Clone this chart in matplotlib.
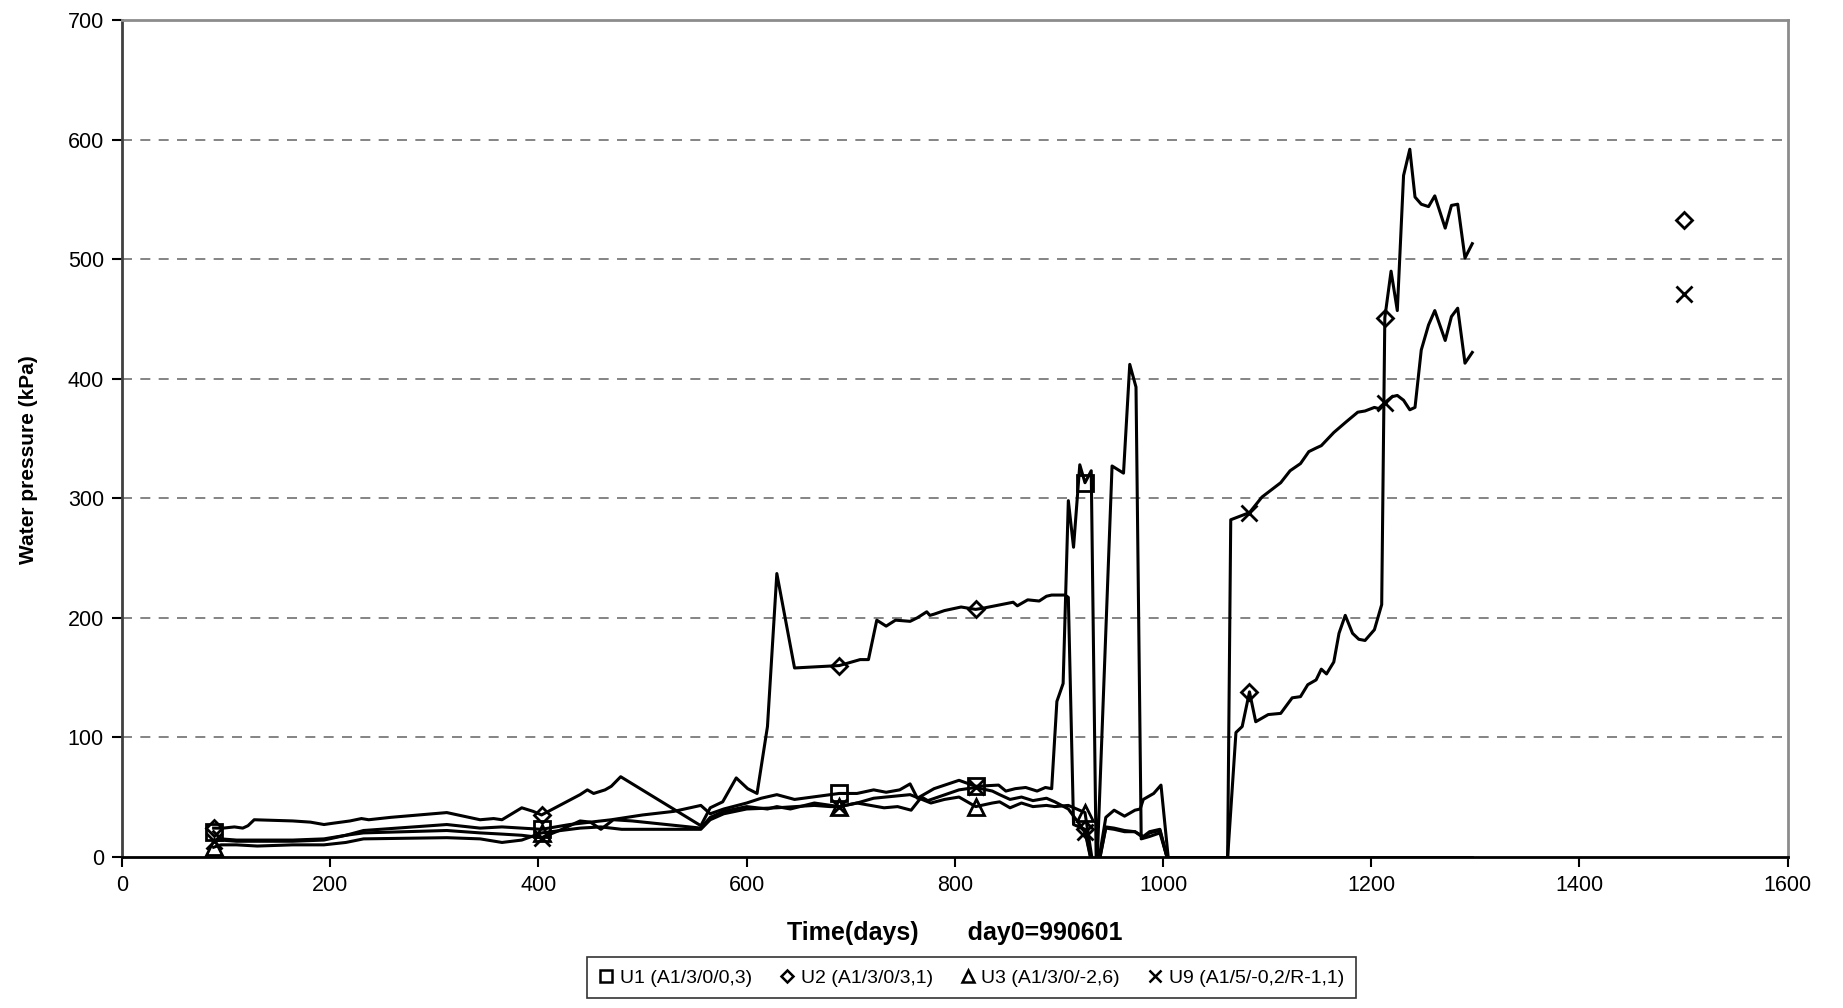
import numpy as np
import matplotlib
matplotlib.use("Agg")
import matplotlib.pyplot as plt
from matplotlib.lines import Line2D

nan = np.nan

# U1 (A1/3/0/0,3)
u1_days = [88, 95, 110, 130, 164, 194, 215, 232, 312, 344, 365, 384, 403, 430, 470, 500, 530, 556, 565, 578,
           600, 614, 629, 646, 689, 706, 722, 734, 747, 757, 764, 780, 804, 820, 842, 849, 858, 868, 879, 887,
           893, 898, 904, 909, 914, 920, 925, 931, 936, 951, 962, 968, 974, 979, 987, 997, 1004, 1100, 1200, 1297]
u1_kpa = [21, 15, 14, 14, 14, 15, 18, 22, 27, 24, 25, 24, 23, 27, 31, 35, 38, 43, 36, 40,
          45, 49, 52, 48, 53, 53, 56, 54, 56, 61, 49, 57, 64, 59, 60, 55, 57, 58, 55, 58,
          57, 130, 145, 298, 259, 328, 313, 323, -20, 327, 321, 412, 393, 15, 17, 20, -1, -1, -1, -1]
u1_marks = [88, 403, 689, 820, 925]

# U2 (A1/3/0/3,1)
u2_days = [88, 97, 108, 116, 121, 127, 164, 181, 194, 202, 219, 230, 237, 258, 312, 344, 357, 365, 384, 395,
           403, 440, 447, 453, 464, 470, 479, 556, 565, 577, 590, 601, 610, 620, 629, 646, 689, 709, 717, 725,
           734, 743, 757, 764, 773, 776, 780, 790, 806, 820, 827, 856, 860, 870, 881, 888, 893, 906, 909, 914,
           925, 935, 945, 953, 963, 973, 978, 981, 991, 998, 1005, 1062, 1070, 1076, 1083, 1089, 1101, 1113, 1124, 1132,
           1139, 1147, 1152, 1157, 1164, 1169, 1175, 1182, 1188, 1194, 1203, 1210, 1213, 1219, 1225, 1231, 1237, 1242, 1248, 1255,
           1261, 1271, 1277, 1283, 1290, 1297, 1400, 1500]
u2_kpa = [24, 24, 25, 24, 26, 31, 30, 29, 27, 28, 30, 32, 31, 33, 37, 31, 32, 31, 41, 38,
          35, 52, 56, 53, 56, 59, 67, 26, 41, 46, 66, 57, 53, 109, 237, 158, 160, 165, 165, 198,
          193, 198, 197, 200, 205, 202, 203, 206, 209, 207, 208, 213, 210, 215, 214, 218, 219, 219, 217, 27,
          23, -20, 33, 39, 34, 39, 40, 48, 53, 60, -1, -1, 104, 109, 138, 113, 119, 120, 133, 134,
          144, 148, 157, 153, 163, 187, 202, 187, 182, 181, 190, 211, 451, 490, 457, 570, 592, 552, 546, 544,
          553, 526, 545, 546, 501, 513, nan, 533]
u2_marks = [88, 403, 689, 820, 925, 1083, 1213, 1500]

# U3 (A1/3/0/-2,6)
u3_days = [88, 95, 110, 130, 164, 194, 215, 232, 312, 344, 365, 384, 403, 440, 460, 480, 556, 565, 578, 600,
           629, 665, 680, 689, 706, 722, 757, 777, 790, 804, 820, 836, 843, 853, 864, 875, 888, 896, 909, 925,
           935, 945, 953, 963, 973, 981, 987, 997, 1004, 1100, 1200, 1297]
u3_kpa = [8, 10, 10, 9, 10, 10, 12, 15, 16, 15, 12, 14, 20, 24, 25, 23, 23, 31, 36, 40,
          41, 43, 42, 42, 45, 49, 52, 45, 48, 50, 42, 45, 46, 41, 45, 42, 43, 42, 43, 37,
          -20, 24, 23, 21, 21, 16, 20, 22, -1, -1, -1, -1]
u3_marks = [88, 403, 689, 820, 925]

# U9 (A1/5/-0,2/R-1,1)
u9_days = [88, 95, 110, 130, 164, 194, 215, 232, 312, 344, 365, 384, 403, 420, 440, 450, 460, 472, 490, 556,
           565, 578, 600, 620, 629, 642, 665, 689, 706, 719, 732, 745, 758, 768, 774, 804, 820, 836, 843, 853,
           864, 875, 888, 896, 909, 925, 935, 945, 953, 963, 973, 981, 987, 997, 1004, 1062, 1065, 1083, 1095, 1113,
           1122, 1132, 1140, 1147, 1152, 1164, 1176, 1187, 1194, 1203, 1207, 1213, 1220, 1225, 1231, 1237, 1242, 1248, 1255, 1261,
           1271, 1277, 1283, 1290, 1297, 1400, 1500]
u9_kpa = [13, 14, 13, 13, 13, 14, 18, 20, 22, 20, 19, 18, 16, 22, 30, 29, 23, 31, 30, 24,
          33, 38, 42, 40, 42, 40, 45, 42, 45, 43, 41, 42, 39, 50, 47, 56, 58, 55, 52, 48,
          50, 47, 49, 46, 40, 21, -20, 25, 24, 22, 21, 17, 21, 23, -1, -1, 282, 288, 301, 313,
          323, 329, 339, 342, 344, 355, 364, 372, 373, 376, 375, 380, 385, 386, 382, 374, 376, 424, 445, 457,
          432, 452, 459, 413, 422, nan, 471]
u9_marks = [88, 403, 689, 820, 925, 1083, 1213, 1500]

labels = ["U1 (A1/3/0/0,3)", "U2 (A1/3/0/3,1)", "U3 (A1/3/0/-2,6)", "U9 (A1/5/-0,2/R-1,1)"]

fig = plt.figure(figsize=(18.43, 10.08), dpi=100)
ax = fig.add_axes([0.0662, 0.150, 0.9038, 0.830])

series = [(u1_days, u1_kpa, u1_marks, "s", 11),
          (u2_days, u2_kpa, u2_marks, "D", 8.5),
          (u3_days, u3_kpa, u3_marks, "^", 11),
          (u9_days, u9_kpa, u9_marks, "x", 12)]

handles = []
for (d, v, m, mk, ms), lab in zip(series, labels):
    idx = [i for i, x in enumerate(d) if x in m]
    ax.plot(d, v, color="black", lw=2.2, marker=mk, markevery=idx, ms=ms,
            mfc="none", mec="black", mew=2.0, zorder=3)
    handles.append(Line2D([], [], ls="none", marker=mk, ms=ms * 0.75, mfc="none",
                          mec="black", mew=1.8, label=lab))

ax.set_xlim(0, 1600)
ax.set_ylim(0, 700)
ax.set_xticks(range(0, 1601, 200))
ax.set_yticks(range(0, 701, 100))
for yv in range(100, 700, 100):
    ax.axhline(yv, color="#707070", lw=1.2, ls=(0, (6, 5)), zorder=1)

ax.spines["top"].set_color("#8c8c8c")
ax.spines["right"].set_color("#8c8c8c")
ax.spines["left"].set_color("#404040")
ax.spines["bottom"].set_color("black")
for s in ax.spines.values():
    s.set_linewidth(2)
ax.tick_params(direction="out", length=7, width=1.5, labelsize=15.5, pad=6)
for t in ax.get_xticklabels() + ax.get_yticklabels():
    t.set_fontfamily("Liberation Sans")

ax.set_xlabel("Time(days)       day0=990601", fontsize=18, fontweight="bold",
              fontfamily="Liberation Sans", labelpad=18)
ax.set_ylabel("Water pressure (kPa)", fontsize=15, fontweight="bold",
              fontfamily="Liberation Sans")
ax.yaxis.set_label_coords(-0.0505, 0.475)

leg = fig.legend(handles=handles, loc="lower center", bbox_to_anchor=(0.527, 0.0), ncol=4,
                 frameon=True, fancybox=False, edgecolor="black", handlelength=0.8,
                 handletextpad=0.3, columnspacing=1.4, borderpad=0.6,
                 prop={"family": "Liberation Sans", "size": 14})
leg.get_frame().set_linewidth(1.2)

fig.savefig("out.png", dpi=100)
